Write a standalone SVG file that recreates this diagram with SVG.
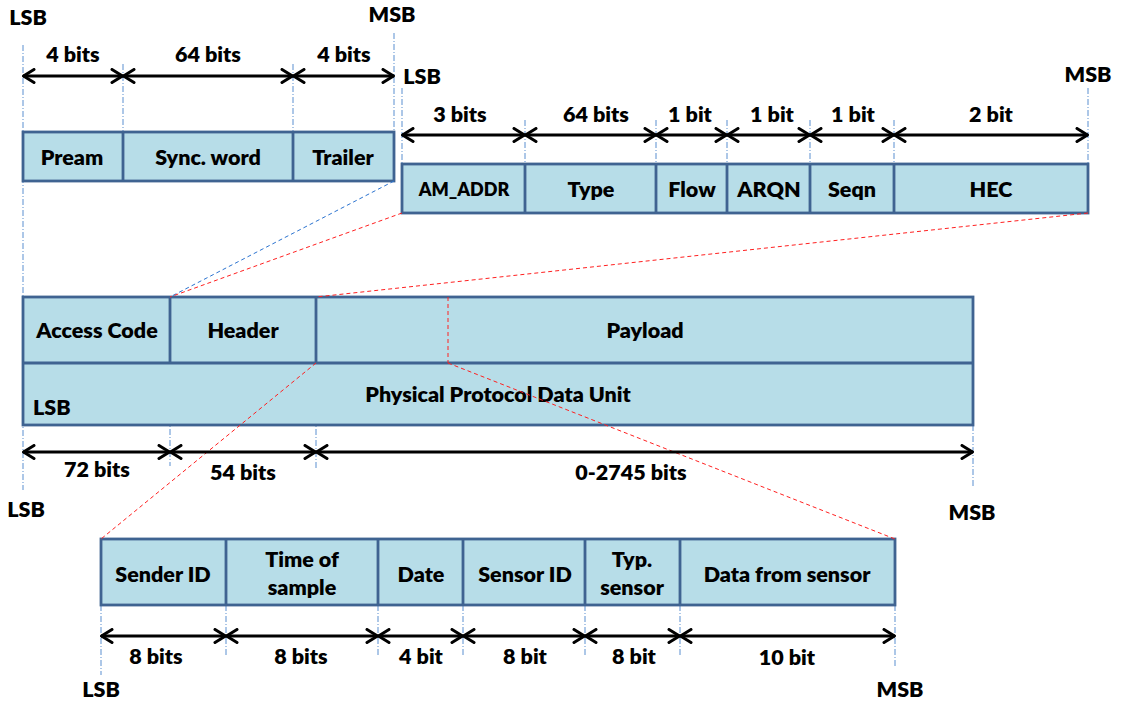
<svg xmlns="http://www.w3.org/2000/svg" width="1121" height="701" viewBox="0 0 1121 701">
  <defs>
    <marker id="chev" viewBox="0 0 14 16" refX="13" refY="8" markerWidth="14" markerHeight="16" markerUnits="userSpaceOnUse" orient="auto-start-reverse">
      <path d="M2,1.5 L12.5,8 L2,14.5" fill="none" stroke="#000" stroke-width="3" stroke-linecap="round" stroke-linejoin="round"/>
    </marker>
    <style>
      .cell { fill: #b7dde8; stroke: #3f6391; stroke-width: 2.8; }
      .sep { fill: none; stroke: #3f6391; stroke-width: 2.8; }
      .t { font-family: Lato, "Liberation Sans", sans-serif; font-weight: 800; font-size: 21.5px; fill: #000; text-anchor: middle; }
      .s { font-size: 18px; }
      .dim { stroke: #000; stroke-width: 3; fill: none; marker-start: url(#chev); marker-end: url(#chev); }
      .guide { stroke: #5b8fd0; stroke-width: 1; stroke-dasharray: 6 2 1 2; fill: none; }
      .zoom-red { stroke: #ff2020; stroke-width: 1; stroke-dasharray: 4 3; fill: none; }
      .zoom-blue { stroke: #2b73d0; stroke-width: 1; stroke-dasharray: 4 3; fill: none; }
    </style>
  </defs>

  <!-- guide lines marking field boundaries -->
  <g id="guides">
    <path class="guide" d="M23,45 V490"/>
    <path class="guide" d="M123,64 V132"/>
    <path class="guide" d="M293,64 V132"/>
    <path class="guide" d="M394,33 V181"/>
    <path class="guide" d="M402,88 V164"/>
    <path class="guide" d="M525,120 V164"/>
    <path class="guide" d="M656,120 V164"/>
    <path class="guide" d="M727,120 V164"/>
    <path class="guide" d="M810,120 V164"/>
    <path class="guide" d="M894,120 V164"/>
    <path class="guide" d="M1088,88 V164"/>
    <path class="guide" d="M170,363 V466"/>
    <path class="guide" d="M316,363 V469"/>
    <path class="guide" d="M973,425 V488"/>
    <path class="guide" d="M101,605 V675"/>
    <path class="guide" d="M226,605 V656"/>
    <path class="guide" d="M378,605 V656"/>
    <path class="guide" d="M463,605 V656"/>
    <path class="guide" d="M585,605 V656"/>
    <path class="guide" d="M680,605 V656"/>
    <path class="guide" d="M895,605 V668"/>
  </g>

  <!-- access code breakdown -->
  <g id="access-code">
    <rect class="cell" x="23" y="132" width="371" height="49"/>
    <path class="sep" d="M123,132 V181 M293,132 V181"/>
    <text class="t" x="72" y="165">Pream</text>
    <text class="t" x="208" y="165">Sync. word</text>
    <text class="t" x="343" y="165">Trailer</text>
  </g>

  <!-- header breakdown -->
  <g id="header">
    <rect class="cell" x="402" y="164" width="686" height="49"/>
    <path class="sep" d="M525,164 V213 M656,164 V213 M727,164 V213 M810,164 V213 M894,164 V213"/>
    <text class="t s" x="464" y="196">AM_ADDR</text>
    <text class="t" x="591" y="197">Type</text>
    <text class="t" x="692" y="197">Flow</text>
    <text class="t" x="769" y="197">ARQN</text>
    <text class="t" x="852" y="197">Seqn</text>
    <text class="t" x="991" y="197">HEC</text>
  </g>

  <!-- physical protocol data unit -->
  <g id="ppdu">
    <rect class="cell" x="23" y="297" width="950" height="128"/>
    <path class="sep" d="M23,363 H973 M170,297 V363 M316,297 V363"/>
    <text class="t" x="97" y="338">Access Code</text>
    <text class="t" x="243" y="338">Header</text>
    <text class="t" x="645" y="338">Payload</text>
    <text class="t" x="498" y="402">Physical Protocol Data Unit</text>
    <text class="t" x="33" y="415" style="text-anchor:start">LSB</text>
  </g>

  <!-- payload breakdown -->
  <g id="payload">
    <rect class="cell" x="101" y="539" width="794" height="66"/>
    <path class="sep" d="M226,539 V605 M378,539 V605 M463,539 V605 M585,539 V605 M680,539 V605"/>
    <text class="t" x="163" y="582">Sender ID</text>
    <text class="t" x="302" y="567">Time of</text>
    <text class="t" x="302" y="595">sample</text>
    <text class="t" x="421" y="582">Date</text>
    <text class="t" x="525" y="582">Sensor ID</text>
    <text class="t" x="632" y="567">Typ.</text>
    <text class="t" x="632" y="595">sensor</text>
    <text class="t" x="787" y="582">Data from sensor</text>
  </g>

  <!-- expansion connectors between levels -->
  <g id="connectors">
    <path class="zoom-blue" d="M394,181 L170,297"/>
    <path class="zoom-red" d="M402,213 L170,297"/>
    <path class="zoom-red" d="M1088,213 L316,297"/>
    <path class="zoom-red" d="M448,297 V363"/>
    <path class="zoom-red" d="M316,363 L101,539"/>
    <path class="zoom-red" d="M448,363 L895,539"/>
  </g>

  <!-- bit-width dimension arrows -->
  <g id="dimensions">
    <path class="dim" d="M23,76 H123"/>
    <path class="dim" d="M123,76 H293"/>
    <path class="dim" d="M293,76 H394"/>
    <path class="dim" d="M402,135 H525"/>
    <path class="dim" d="M525,135 H656"/>
    <path class="dim" d="M656,135 H727"/>
    <path class="dim" d="M727,135 H810"/>
    <path class="dim" d="M810,135 H894"/>
    <path class="dim" d="M894,135 H1088"/>
    <path class="dim" d="M23,452 H170"/>
    <path class="dim" d="M170,452 H316"/>
    <path class="dim" d="M316,452 H973"/>
    <path class="dim" d="M101,636 H226"/>
    <path class="dim" d="M226,636 H378"/>
    <path class="dim" d="M378,636 H463"/>
    <path class="dim" d="M463,636 H585"/>
    <path class="dim" d="M585,636 H680"/>
    <path class="dim" d="M680,636 H895"/>
  </g>

  <!-- dimension labels and bit-order markers -->
  <g id="labels">
    <text class="t" x="28" y="25">LSB</text>
    <text class="t" x="392" y="22">MSB</text>
    <text class="t" x="73" y="62">4 bits</text>
    <text class="t" x="208" y="62">64 bits</text>
    <text class="t" x="344" y="62">4 bits</text>
    <text class="t" x="422" y="84">LSB</text>
    <text class="t" x="1088" y="82">MSB</text>
    <text class="t" x="460" y="122">3 bits</text>
    <text class="t" x="596" y="122">64 bits</text>
    <text class="t" x="690" y="122">1 bit</text>
    <text class="t" x="772" y="122">1 bit</text>
    <text class="t" x="853" y="122">1 bit</text>
    <text class="t" x="991" y="122">2 bit</text>
    <text class="t" x="97" y="477">72 bits</text>
    <text class="t" x="243" y="480">54 bits</text>
    <text class="t" x="631" y="480">0-2745 bits</text>
    <text class="t" x="26" y="517">LSB</text>
    <text class="t" x="972" y="520">MSB</text>
    <text class="t" x="156" y="664">8 bits</text>
    <text class="t" x="301" y="664">8 bits</text>
    <text class="t" x="421" y="664">4 bit</text>
    <text class="t" x="525" y="664">8 bit</text>
    <text class="t" x="634" y="664">8 bit</text>
    <text class="t" x="787" y="665">10 bit</text>
    <text class="t" x="101" y="697">LSB</text>
    <text class="t" x="900" y="697">MSB</text>
  </g>
</svg>
